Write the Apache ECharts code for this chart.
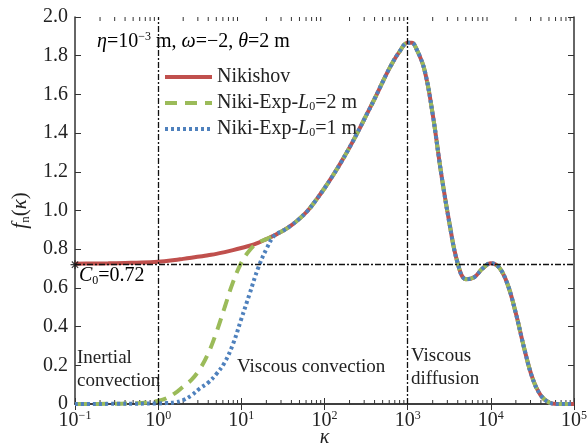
<!DOCTYPE html>
<html>
<head>
<meta charset="utf-8">
<script src="https://cdn.jsdelivr.net/npm/echarts@6/dist/echarts.min.js"></script>
<style>
html, body { margin: 0; padding: 0; background: #fff; }
#chart { width: 588px; height: 446px; }
</style>
</head>
<body>
<div id="chart"></div>
<script>
'use strict';

var chart = echarts.init(document.getElementById('chart'));

// log10(kappa) sample points
var nikiLogK = [-1.0, -0.8, -0.6, -0.4, -0.2, 0.0, 0.1, 0.2, 0.3, 0.4, 0.5, 0.6, 0.7, 0.8, 0.9,
    1.0, 1.1, 1.2, 1.3, 1.4, 1.5, 1.6, 1.7, 1.8, 1.9, 2.0, 2.1, 2.2, 2.3, 2.4, 2.5, 2.6, 2.7, 2.8, 2.9,
    3.0, 3.05, 3.1, 3.2, 3.3, 3.4, 3.5, 3.6, 3.7, 3.8, 3.9, 4.0, 4.1, 4.2, 4.3, 4.4, 4.5, 4.6, 4.7, 4.8, 5.0];
var nikiVal = [0.725, 0.726, 0.727, 0.729, 0.731, 0.735, 0.739, 0.744, 0.750, 0.756, 0.762, 0.769, 0.776, 0.785, 0.795,
    0.806, 0.818, 0.833, 0.852, 0.872, 0.895, 0.923, 0.958, 1.000, 1.055, 1.115, 1.180, 1.250, 1.325, 1.405, 1.490, 1.575, 1.665, 1.750, 1.820,
    1.867, 1.867, 1.840, 1.730, 1.500, 1.200, 0.940, 0.730, 0.645, 0.655, 0.700, 0.728, 0.705, 0.620, 0.470, 0.290, 0.135, 0.045, 0.008, 0.0, 0.0];

var exp2LogK = [-1.0, -0.6, -0.3, -0.2, -0.1, 0.0, 0.1, 0.2, 0.3, 0.4, 0.5, 0.6, 0.7, 0.8, 0.9, 1.0, 1.1];
var exp2Val = [0.0, 0.001, 0.003, 0.005, 0.009, 0.016, 0.03, 0.055, 0.09, 0.125, 0.18, 0.26, 0.37, 0.50, 0.63, 0.73, 0.795];

var exp1LogK = [-1.0, -0.5, 0.0, 0.1, 0.2, 0.3, 0.4, 0.5, 0.6, 0.7, 0.8, 0.9, 1.0, 1.1, 1.2, 1.3];
var exp1Val = [0.0, 0.001, 0.003, 0.005, 0.008, 0.02, 0.045, 0.08, 0.11, 0.155, 0.215, 0.31, 0.44, 0.57, 0.70, 0.80];

var C0 = 0.72;
var regionBounds = [1, 1000];
var xTickExp = [-1, 0, 1, 2, 3, 4, 5];

function toPairs(logK, vals) {
    return logK.map(function (e, i) { return [Math.pow(10, e), vals[i]]; });
}
var nikiData = toPairs(nikiLogK, nikiVal);
// the Exp curves coincide with Nikishov above where they join
function joinTail(logK, vals) {
    var last = logK[logK.length - 1];
    var out = toPairs(logK, vals);
    nikiLogK.forEach(function (e, i) {
        if (e > last + 0.05) out.push([Math.pow(10, e), nikiVal[i]]);
    });
    return out;
}
var exp2Data = joinTail(exp2LogK, exp2Val);
var exp1Data = joinTail(exp1LogK, exp1Val);

// minor ticks of the log axis: 2..9 in every decade
var minorTicks = [];
for (var d = xTickExp[0]; d < xTickExp[xTickExp.length - 1]; d++) {
    for (var k = 2; k <= 9; k++) minorTicks.push([k * Math.pow(10, d), 0]);
}

var FONT = 'Liberation Serif';
var TXT = '#222';
var RED = '#c0504d', GREEN = '#9bbb59', BLUE = '#4f81bd';

var rich = {
    t: { fontFamily: FONT, fontSize: 20, color: TXT },
    i: { fontFamily: FONT, fontSize: 20, color: TXT, fontStyle: 'italic' },
    sub: { fontFamily: FONT, fontSize: 12, color: TXT, verticalAlign: 'bottom', padding: [9, 0, 0, 0] },
    sup: { fontFamily: FONT, fontSize: 12, color: TXT, verticalAlign: 'top', padding: [0, 0, 10, 0] }
};
var legRich = {
    t: { fontFamily: FONT, fontSize: 20, fontWeight: 'normal', color: TXT, lineHeight: 20 },
    i: { fontFamily: FONT, fontSize: 20, fontWeight: 'normal', color: TXT, fontStyle: 'italic', lineHeight: 20 },
    sub: { fontFamily: FONT, fontSize: 12, fontWeight: 'normal', color: TXT, lineHeight: 20, verticalAlign: 'bottom' }
};

var option = {
    animation: false,
    backgroundColor: '#fff',
    textStyle: { fontFamily: FONT, fontWeight: 'normal' },
    grid: { left: 75, right: 14, top: 17, bottom: 42, containLabel: false, outerBoundsMode: 'none' },
    legend: {
        orient: 'vertical',
        left: 163,
        top: 67,
        itemWidth: 47,
        itemHeight: 14,
        itemGap: 6,
        padding: 0,
        itemStyle: { opacity: 0 },
        lineStyle: { width: 4 },
        data: ['Nikishov', 'Niki-Exp-L0=2 m', 'Niki-Exp-L0=1 m'],
        formatter: function (name) {
            if (name === 'Nikishov') return '{t|Nikishov}';
            var m = name.match(/L0=(\d) m/);
            return '{t|Niki-Exp-}{i|L}{sub|0}{t|=' + m[1] + ' m}';
        },
        textStyle: { fontFamily: FONT, fontSize: 20, fontWeight: 'normal', color: TXT, rich: legRich }
    },
    xAxis: [{
        type: 'log',
        logBase: 10,
        min: 0.1,
        max: 1e5,
        name: 'κ',
        nameLocation: 'middle',
        nameGap: 24,
        nameMoveOverlap: false,
        nameTextStyle: { fontFamily: FONT, fontSize: 20, fontStyle: 'italic', color: TXT },
        axisLine: { lineStyle: { color: '#333', width: 1.5 } },
        axisTick: { inside: true, length: 6, lineStyle: { color: '#333' } },
        splitLine: { show: false },
        axisLabel: {
            margin: 6,
            formatter: function (v) {
                var e = Math.round(Math.log(v) / Math.LN10);
                return '{t|10}{sup|' + (e < 0 ? '−' + (-e) : e) + '}';
            },
            rich: rich
        }
    }, {
        type: 'log',
        logBase: 10,
        min: 0.1,
        max: 1e5,
        position: 'top',
        axisLine: { lineStyle: { color: '#333', width: 1.5 } },
        axisTick: { inside: true, length: 6, lineStyle: { color: '#333' } },
        splitLine: { show: false },
        axisLabel: { show: false }
    }],
    yAxis: [{
        type: 'value',
        min: 0,
        max: 2,
        interval: 0.2,
        name: '{fi|f}{fs|n}{fp|(}{fi|κ}{fp|)}',
        nameLocation: 'middle',
        nameGap: 42,
        nameRotate: 90,
        nameTextStyle: {
            rich: {
                fi: { fontFamily: FONT, fontSize: 21, fontStyle: 'italic', color: TXT },
                fp: { fontFamily: FONT, fontSize: 21, color: TXT },
                fs: { fontFamily: FONT, fontSize: 13, color: TXT, verticalAlign: 'bottom', padding: [10, 0, 0, 0] }
            }
        },
        axisLine: { show: true, lineStyle: { color: '#333', width: 1.5 } },
        axisTick: { show: true, inside: true, length: 6, lineStyle: { color: '#333' } },
        splitLine: { show: false },
        axisLabel: {
            margin: 7,
            fontFamily: FONT,
            fontSize: 20,
            color: TXT,
            formatter: function (v) { return v === 0 ? '0' : v.toFixed(1); }
        }
    }, {
        type: 'value',
        min: 0,
        max: 2,
        interval: 0.2,
        position: 'right',
        axisLine: { show: true, lineStyle: { color: '#333', width: 1.5 } },
        axisTick: { show: true, inside: true, length: 6, lineStyle: { color: '#333' } },
        splitLine: { show: false },
        axisLabel: { show: false }
    }],
    graphic: [{
        type: 'text', left: 97, top: 31,
        style: {
            text: '{i|η}{t|=10}{sup|−3}{t| m, }{i|ω}{t|=−2, }{i|θ}{t|=2 m}',
            rich: rich
        }
    }, {
        type: 'text', left: 79, top: 266,
        style: { text: '{i|C}{sub|0}{t|=0.72}', rich: rich }
    }, {
        type: 'text', left: 77, top: 347,
        style: { text: 'Inertial\nconvection', fontFamily: FONT, fontSize: 19, lineHeight: 23, fill: TXT }
    }, {
        type: 'text', left: 237, top: 358,
        style: { text: 'Viscous convection', fontFamily: FONT, fontSize: 19, fill: TXT }
    }, {
        type: 'text', left: 411, top: 345,
        style: { text: 'Viscous\ndiffusion', fontFamily: FONT, fontSize: 19, lineHeight: 23, fill: TXT }
    }],
    series: [{
        name: 'Nikishov',
        type: 'line',
        data: nikiData,
        smooth: 0.4,
        showSymbol: false,
        symbol: 'none',
        lineStyle: { color: RED, width: 4 },
        itemStyle: { color: RED },
        z: 2,
        markLine: {
            silent: true,
            symbol: 'none',
            label: { show: false },
            lineStyle: { color: '#111', width: 1.3, type: [6, 2, 2, 2] },
            data: [{ xAxis: regionBounds[0] }, { xAxis: regionBounds[1] }, { yAxis: C0 }]
        }
    }, {
        name: 'Niki-Exp-L0=2 m',
        type: 'line',
        data: exp2Data,
        smooth: 0.4,
        showSymbol: false,
        symbol: 'none',
        lineStyle: { color: GREEN, width: 4, type: [12, 8] },
        itemStyle: { color: GREEN },
        z: 3
    }, {
        name: 'Niki-Exp-L0=1 m',
        type: 'line',
        data: exp1Data,
        smooth: 0.4,
        showSymbol: false,
        symbol: 'none',
        lineStyle: { color: BLUE, width: 4, type: [3, 3] },
        itemStyle: { color: BLUE },
        z: 4
    }, {
        type: 'scatter',
        data: [[0.1, C0]],
        symbol: 'path://M5,0 L5,10 M0,5 L10,5 M1.5,1.5 L8.5,8.5 M8.5,1.5 L1.5,8.5',
        symbolSize: 9,
        itemStyle: { color: 'none', borderColor: '#111', borderWidth: 1.2 },
        z: 5,
        silent: true
    }, {
        type: 'custom',
        data: minorTicks,
        silent: true,
        z: 1,
        renderItem: function (params, api) {
            var v = api.value(0);
            var b = api.coord([v, 0]);
            var t = api.coord([v, 2]);
            return {
                type: 'group',
                children: [{
                    type: 'line',
                    shape: { x1: b[0], y1: b[1], x2: b[0], y2: b[1] - 4 },
                    style: { stroke: '#333', lineWidth: 1 }
                }, {
                    type: 'line',
                    shape: { x1: t[0], y1: t[1], x2: t[0], y2: t[1] + 4 },
                    style: { stroke: '#333', lineWidth: 1 }
                }]
            };
        }
    }]
};

chart.setOption(option);
</script>
</body>
</html>
